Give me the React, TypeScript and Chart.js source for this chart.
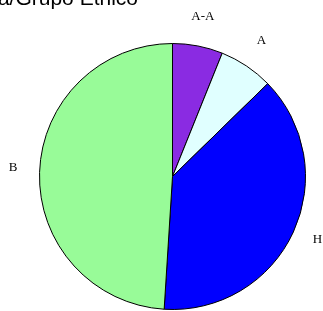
import React, { useEffect, useRef } from "react";
import { Chart, registerables } from "chart.js";

Chart.register(...registerables);

const categories = ["A-A", "A", "H", "B"];
const values = [6.1, 6.6, 38.3, 49.0];
const colors = ["#8A2BE2", "#E0FFFF", "#0000FF", "#98FB98"];
const titleText = "Raza/Grupo Etnico";

const outsideLabels = {
  id: "outsideLabels",
  afterDatasetsDraw(chart: any) {
    const ctx = chart.ctx;
    const meta = chart.getDatasetMeta(0);
    ctx.save();
    ctx.fillStyle = "#000";
    ctx.font = "13px 'Liberation Serif', 'Times New Roman', serif";
    ctx.textAlign = "center";
    ctx.textBaseline = "alphabetic";
    meta.data.forEach((arc: any, i: number) => {
      const { x, y, startAngle, endAngle, outerRadius } = arc.getProps(
        ["x", "y", "startAngle", "endAngle", "outerRadius"],
        true
      );
      const mid = (startAngle + endAngle) / 2;
      const r = outerRadius * 1.2;
      ctx.fillText(categories[i], x + r * Math.cos(mid), y + r * Math.sin(mid));
    });
    ctx.font = "21px 'Liberation Sans', Arial, sans-serif";
    ctx.textAlign = "right";
    ctx.fillText(titleText, 138, 5);
    ctx.restore();
  },
};

export default function App() {
  const ref = useRef<HTMLCanvasElement>(null);
  useEffect(() => {
    document.body.style.margin = "0";
    const chart = new Chart(ref.current!, {
      type: "pie",
      data: {
        labels: categories,
        datasets: [
          {
            data: values,
            backgroundColor: colors,
            borderColor: "#000",
            borderWidth: 1,
          },
        ],
      },
      options: {
        responsive: false,
        animation: false,
        layout: { padding: { left: 39, right: 17, top: 43, bottom: 1 } },
        plugins: {
          legend: { display: false },
          tooltip: { enabled: false },
          title: { display: false },
        },
      },
      plugins: [outsideLabels],
    });
    return () => chart.destroy();
  }, []);
  return (
    <div style={{ width: 323, height: 311, background: "#fff" }}>
      <canvas ref={ref} width={323} height={311} />
    </div>
  );
}
